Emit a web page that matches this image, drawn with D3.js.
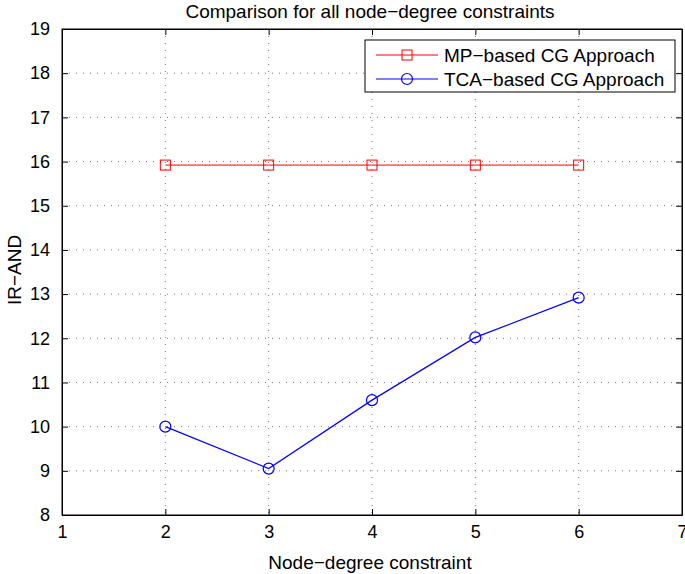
<!DOCTYPE html>
<html><head><meta charset="utf-8">
<script src="https://cdn.jsdelivr.net/npm/d3@7"></script>
<style>body{margin:0;background:#fff}text{font-family:"Liberation Sans",Arial,Helvetica,sans-serif;}</style>
</head><body>
<svg id="c" width="685" height="574"></svg>
<script>
const xValues = [2, 3, 4, 5, 6];
const mpValues = [15.92, 15.92, 15.92, 15.92, 15.92];
const tcaValues = [10.0, 9.05, 10.6, 12.02, 12.92];
const xTicks = [1, 2, 3, 4, 5, 6, 7];
const yTicks = [8, 9, 10, 11, 12, 13, 14, 15, 16, 17, 18, 19];
const seriesNames = ["MP\u2212based CG Approach", "TCA\u2212based CG Approach"];
const titleText = "Comparison for all node\u2212degree constraints";
const xLabel = "Node\u2212degree constraint";
const yLabel = "IR\u2212AND";

const svg = d3.select("#c");
const L = 62, R = 682, T = 29, B = 515;
const x = d3.scaleLinear().domain([1, 7]).range([L, R]);
const y = d3.scaleLinear().domain([8, 19]).range([B, T]);

// grid
const g = svg.append("g");
g.selectAll(".gx").data(xTicks.slice(1, -1)).enter().append("line")
  .attr("x1", d => x(d)).attr("x2", d => x(d)).attr("y1", T).attr("y2", B)
  .attr("stroke", "#555").attr("stroke-width", 0.8).attr("stroke-dasharray", "1,6");
g.selectAll(".gy").data(yTicks.slice(1, -1)).enter().append("line")
  .attr("y1", d => y(d)).attr("y2", d => y(d)).attr("x1", L).attr("x2", R)
  .attr("stroke", "#555").attr("stroke-width", 0.8).attr("stroke-dasharray", "1,6");

// axes
const fs = "18px";
const fmt = d3.format("d");
const ax = svg.append("g").attr("transform", `translate(0,${B})`)
  .call(d3.axisBottom(x).tickValues(xTicks).tickFormat(fmt).tickSizeInner(-6).tickSizeOuter(0).tickPadding(10));
const ay = svg.append("g").attr("transform", `translate(${L},0)`)
  .call(d3.axisLeft(y).tickValues(yTicks).tickFormat(fmt).tickSizeInner(-6).tickSizeOuter(0).tickPadding(12));
const at = svg.append("g").attr("transform", `translate(0,${T})`)
  .call(d3.axisTop(x).tickValues(xTicks).tickSizeInner(-6).tickSizeOuter(0).tickFormat(""));
const ar = svg.append("g").attr("transform", `translate(${R},0)`)
  .call(d3.axisRight(y).tickValues(yTicks).tickSizeInner(-6).tickSizeOuter(0).tickFormat(""));
[ax, ay, at, ar].forEach(a => {
  a.selectAll("path").attr("stroke", "#000").attr("stroke-width", 1);
  a.selectAll("line").attr("stroke", "#000").attr("stroke-width", 1);
  a.selectAll("text").attr("font-size", fs).attr("fill", "#000")
    .style("font-family", '"Liberation Sans",Arial,sans-serif');
});
svg.append("rect").attr("x", L).attr("y", T).attr("width", R - L).attr("height", B - T)
  .attr("fill", "none").attr("stroke", "#000").attr("stroke-width", 1);

// series
const line = d3.line().x((d, i) => x(xValues[i])).y(d => y(d));
svg.append("path").datum(mpValues).attr("d", line).attr("fill", "none").attr("stroke", "#ff0000").attr("stroke-width", 1);
svg.selectAll(".mp").data(mpValues).enter().append("rect")
  .attr("x", (d, i) => x(xValues[i]) - 5).attr("y", d => y(d) - 5).attr("width", 10).attr("height", 10)
  .attr("fill", "none").attr("stroke", "#ff0000").attr("stroke-width", 1);
svg.append("path").datum(tcaValues).attr("d", line).attr("fill", "none").attr("stroke", "#0000ff").attr("stroke-width", 1.2);
svg.selectAll(".tca").data(tcaValues).enter().append("circle")
  .attr("cx", (d, i) => x(xValues[i])).attr("cy", d => y(d)).attr("r", 5.5)
  .attr("fill", "none").attr("stroke", "#0000ff").attr("stroke-width", 1.2);

// legend
const lg = svg.append("g");
lg.append("rect").attr("x", 365).attr("y", 40).attr("width", 310).attr("height", 52)
  .attr("fill", "#fff").attr("stroke", "#000").attr("stroke-width", 1);
const colors = ["#ff0000", "#0000ff"];
seriesNames.forEach((n, i) => {
  const yy = 55 + i * 24;
  lg.append("line").attr("x1", 376).attr("x2", 438).attr("y1", yy).attr("y2", yy).attr("stroke", colors[i]).attr("stroke-width", 1);
  if (i === 0) lg.append("rect").attr("x", 402).attr("y", yy - 5).attr("width", 10).attr("height", 10).attr("fill", "none").attr("stroke", colors[i]);
  else lg.append("circle").attr("cx", 407).attr("cy", yy).attr("r", 5.5).attr("fill", "none").attr("stroke", colors[i]).attr("stroke-width", 1.2);
  lg.append("text").attr("x", 444).attr("y", yy + 7).attr("font-size", "19px").text(n);
});

// labels
svg.append("text").attr("x", (L + R) / 2 - 2).attr("y", 18).attr("text-anchor", "middle").attr("font-size", "19px").text(titleText);
svg.append("text").attr("x", (L + R) / 2 - 2).attr("y", 569).attr("text-anchor", "middle").attr("font-size", "19px").text(xLabel);
svg.append("text").attr("transform", `translate(21,${(T + B) / 2 - 2}) rotate(-90)`).attr("text-anchor", "middle").attr("font-size", "19px").text(yLabel);
</script>
</body></html>
